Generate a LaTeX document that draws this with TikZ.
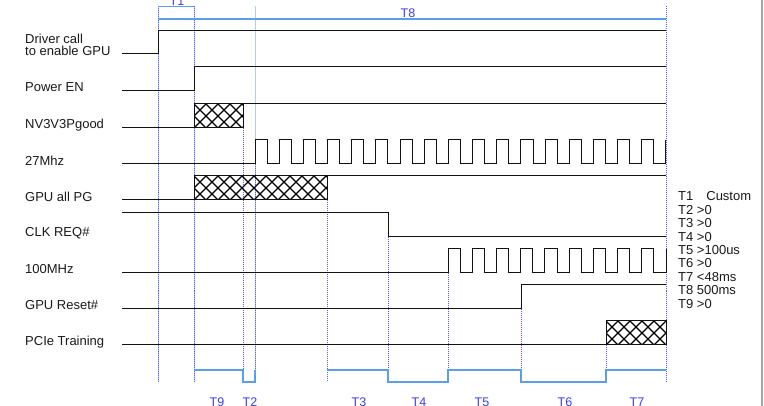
\documentclass[tikz,border=0pt]{standalone}
\usepackage{fontspec}
\setmainfont{Liberation Sans}
\definecolor{sigcol}{HTML}{111111}
\definecolor{txtcol}{HTML}{1A1A1A}
\definecolor{tcol}{HTML}{3C3CFF}
\definecolor{barcol}{HTML}{5A9EEE}
\definecolor{guidecol}{HTML}{5A5AFF}
\definecolor{guidelight}{HTML}{B4C8FA}
\newcommand\hatchbox[4]{%
  \begin{scope}
    \clip (#1,#3) rectangle (#2,#4);
    \foreach \k in {-2,...,14} {
      \draw[hatchline] ({#1+12*\k},#3) -- ++(24,24);
      \draw[hatchline] ({#1+12*\k},#3) -- ++(-24,24);
    }
  \end{scope}
  \draw[sig] (#1,#3) rectangle (#2,#4);
}
\begin{document}
\begin{tikzpicture}[x=1pt,y=-1pt,
  sig/.style={line width=1pt, draw=sigcol},
  hatchline/.style={line width=1.1pt, draw=black},
  lbl/.style={anchor=base west, font=\fontsize{13}{13.4}\selectfont, text=txtcol, inner sep=0pt},
  tlbl/.style={anchor=base, font=\fontsize{12.5}{13}\selectfont, text=tcol, inner sep=0pt},
  bar/.style={line width=1.4pt, draw=barcol},
  guide/.style={line width=0.6pt, draw=guidecol, dash pattern=on 1pt off 1pt},
  guidesolid/.style={line width=1pt, draw=guidelight},
  ]
\useasboundingbox (0,0) rectangle (764,406);
\fill[white] (0,0) rectangle (764,406);

% guide lines
\foreach \x in {158,194,255} \draw[guidesolid] (\x,6.5) -- (\x,382);
\draw[guide] (158,6.5) -- (158,382);
\draw[guide] (194,6.5) -- (194,382);
\draw[guide] (243,128) -- (243,382);
\draw[guide] (255,164) -- (255,382);
\draw[guide] (327,200) -- (327,382);
\draw[guide] (388,237) -- (388,382);
\draw[guide] (448,273) -- (448,382);
\draw[guide] (521,309) -- (521,382);
\draw[guide] (606,345) -- (606,382);
\draw[guide] (666,6.5) -- (666,382);

% top timing bars
\draw[bar] (158,6.5) -- (194,6.5);
\draw[bar] (158,19) -- (666,19);
\node[tlbl] (t1top) at (177,6) {T1};
\node[tlbl] (t8top) at (408,18) {T8};

% labels
\node[lbl] (l1a) at (25,43.5) {Driver call};
\node[lbl] (l1b) at (25,56) {to enable GPU};
\node[lbl] (l2) at (25,92) {Power EN};
\node[lbl] (l3) at (25,128.5) {NV3V3Pgood};
\node[lbl] (l4) at (25,165.5) {27Mhz};
\node[lbl] (l5) at (25,201.5) {GPU all PG};
\node[lbl] (l6) at (25,236.5) {CLK REQ\#};
\node[lbl] (l7) at (25,273.5) {100MHz};
\node[lbl] (l8) at (25,310) {GPU Reset\#};
\node[lbl] (l9) at (25,346) {PCIe Training};

% signals
\draw[sig] (122,54) -- (158,54) -- (158,31) -- (666,31);
\draw[sig] (122,91) -- (194,91) -- (194,67) -- (666,67);
\draw[sig] (122,128) -- (194,128);
\hatchbox{194}{243}{104}{128}
\draw[sig] (243,104) -- (666,104);
\draw[sig] (122,164) -- (255,164)
  \foreach \i in {1,...,17} { -- ++(0,-24) -- ++(12.088,0) -- ++(0,24) -- ++(12.088,0) }
  -- ++(0,-24);
\draw[sig] (122,200) -- (194,200);
\hatchbox{194}{327}{176}{200}
\draw[sig] (327,176) -- (666,176);
\draw[sig] (122,213) -- (388,213) -- (388,237) -- (666,237);
\draw[sig] (122,273) -- (448,273)
  \foreach \i in {1,...,9} { -- ++(0,-24) -- ++(12.111,0) -- ++(0,24) -- ++(12.111,0) }
  -- ++(0,-24);
\draw[sig] (122,309) -- (521,309) -- (521,285) -- (666,285);
\draw[sig] (122,345) -- (606,345);
\hatchbox{606}{666}{321}{345}

% bottom timing bars
\draw[bar] (194,370) -- (243,370) -- (243,382) -- (255,382) -- (255,370);
\draw[bar] (327,370) -- (388,370) -- (388,382) -- (448,382) -- (448,370)
  -- (521,370) -- (521,382) -- (606,382) -- (606,370) -- (666,370);
\node[tlbl] (t9) at (217,406.5) {T9};
\node[tlbl] (t2) at (250,406.5) {T2};
\node[tlbl] (t3) at (359,406.5) {T3};
\node[tlbl] (t4) at (419,406.5) {T4};
\node[tlbl] (t5) at (482,406.5) {T5};
\node[tlbl] (t6) at (565,406.5) {T6};
\node[tlbl] (t7) at (637,406.5) {T7};

% legend
\node[lbl] (lg1) at (678,201) {T1\hspace{13pt}Custom};
\node[lbl] (lg2) at (678,214.4) {T2 >0};
\node[lbl] (lg3) at (678,227.8) {T3 >0};
\node[lbl] (lg4) at (678,241.2) {T4 >0};
\node[lbl] (lg5) at (678,254.6) {T5 >100us};
\node[lbl] (lg6) at (678,268) {T6 >0};
\node[lbl] (lg7) at (678,281.4) {T7 <48ms};
\node[lbl] (lg8) at (678,294.8) {T8 500ms};
\node[lbl] (lg9) at (678,308.2) {T9 >0};

% right border
\draw[line width=2pt, draw=gray!70] (762,0) -- (762,406);
\end{tikzpicture}
\end{document}
